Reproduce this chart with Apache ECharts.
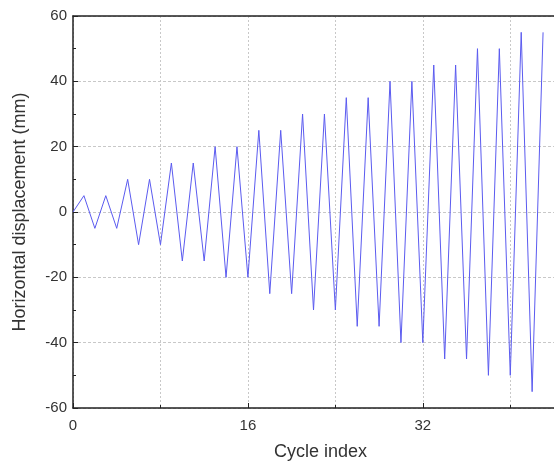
<!DOCTYPE html>
<html>
<head>
<meta charset="utf-8">
<script src="https://cdn.jsdelivr.net/npm/echarts@6/dist/echarts.min.js"></script>
<style>
  html, body { margin: 0; padding: 0; background: #fff; }
  #chart { width: 554px; height: 463px; }
</style>
</head>
<body>
<div id="chart"></div>
<script>
// Loading protocol: cycle index and applied horizontal displacement (mm)
const cycleIndex = [0, 1, 2, 3, 4, 5, 6, 7, 8, 9, 10, 11, 12, 13, 14, 15, 16, 17, 18, 19, 20, 21,
  22, 23, 24, 25, 26, 27, 28, 29, 30, 31, 32, 33, 34, 35, 36, 37, 38, 39, 40, 41, 42, 43];
const displacement = [0, 5, -5, 5, -5, 10, -10, 10, -10, 15, -15, 15, -15, 20, -20, 20, -20, 25, -25, 25, -25, 30,
  -30, 30, -30, 35, -35, 35, -35, 40, -40, 40, -40, 45, -45, 45, -45, 50, -50, 50, -50, 55, -55, 55];
const xLabelStep = 16;
const yTickLabels = [-60, -40, -20, 0, 20, 40, 60];

const points = cycleIndex.map((c, i) => [c, displacement[i]]);

const fontFamily = '"Liberation Sans", Arial, sans-serif';
const gridDotted = { show: true, lineStyle: { color: '#c8c8c8', type: [2, 2], width: 1 } };

const chart = echarts.init(document.getElementById('chart'), null, { renderer: 'canvas' });
chart.setOption({
  animation: false,
  backgroundColor: '#fff',
  grid: { left: 73, top: 16, right: 0, bottom: 55, outerBoundsMode: 'none', containLabel: false },
  xAxis: [{
    type: 'value',
    min: 0,
    max: 44,
    interval: xLabelStep,
    name: 'Cycle index',
    nameLocation: 'middle',
    nameGap: 35,
    nameTextStyle: { fontSize: 18, color: '#333', fontFamily, padding: [0, 0, 0, 14] },
    axisLine: { show: true, onZero: false, lineStyle: { color: '#222', width: 1.5 } },
    axisTick: { show: true, inside: true, length: 5, lineStyle: { color: '#222' } },
    minorTick: { show: true, splitNumber: 2, length: 3, lineStyle: { color: '#222' } },
    axisLabel: { color: '#333', fontSize: 15, fontFamily, margin: 10, showMaxLabel: false },
    splitLine: gridDotted,
    minorSplitLine: gridDotted
  }, {
    type: 'value',
    position: 'top',
    min: 0,
    max: 44,
    axisLine: { show: true, onZero: false, lineStyle: { color: '#222', width: 1.5 } },
    axisTick: { show: false },
    axisLabel: { show: false },
    splitLine: { show: false }
  }],
  yAxis: {
    type: 'value',
    min: yTickLabels[0],
    max: yTickLabels[yTickLabels.length - 1],
    interval: 20,
    name: 'Horizontal displacement (mm)',
    nameLocation: 'middle',
    nameGap: 44,
    nameTextStyle: { fontSize: 18, color: '#333', fontFamily },
    axisLine: { show: true, onZero: false, lineStyle: { color: '#222', width: 1.5 } },
    axisTick: { show: true, inside: true, length: 5, lineStyle: { color: '#222' } },
    minorTick: { show: true, splitNumber: 2, length: 3, lineStyle: { color: '#222' } },
    axisLabel: { color: '#333', fontSize: 15, fontFamily, margin: 6 },
    splitLine: { show: true, lineStyle: { color: '#c8c8c8', type: [3, 2], width: 1 } }
  },
  series: [{
    type: 'line',
    data: points,
    showSymbol: false,
    symbol: 'none',
    clip: false,
    lineStyle: { color: '#5b5bf0', width: 1 }
  }]
});
</script>
</body>
</html>
